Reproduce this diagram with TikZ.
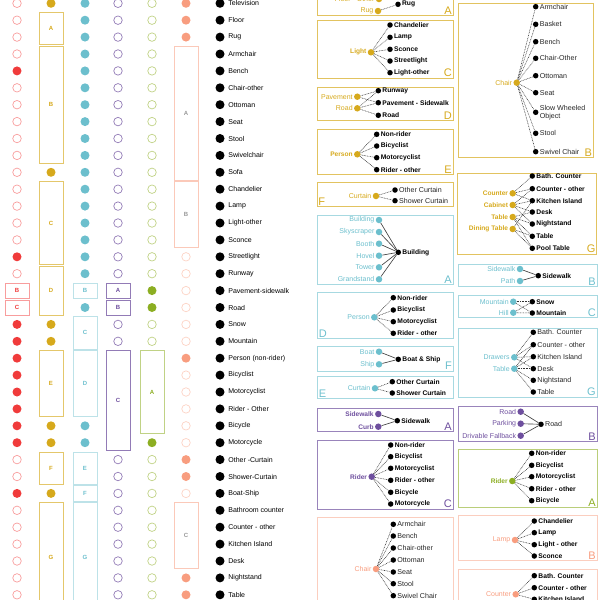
\documentclass[tikz,border=0pt]{standalone}
\usepackage{fontspec}
\setmainfont{Liberation Sans}
\usetikzlibrary{positioning}

\definecolor{rd}{HTML}{F03B3B}
\definecolor{gld}{HTML}{D6A91C}
\definecolor{tel}{HTML}{6CBFCD}
\definecolor{prp}{HTML}{6E4F9E}
\definecolor{grn}{HTML}{8CAE22}
\definecolor{slm}{HTML}{F89D7F}

% box spanning rows #3..#4 of the grid
\newcommand{\grp}[6]{%
  \node[#5,minimum height={(#4-#3)*16.9+15.2}] (#1) at (#2,{3.3+16.9*(#3+#4)/2}) {#6};}

\begin{document}
\begin{tikzpicture}[x=1pt,y=-1pt]
  \tikzset{opn/.style={circle,draw=#1,line width=0.7pt,minimum size=8.5pt,inner sep=0},
    ful/.style={circle,fill=#1,minimum size=9pt,inner sep=0},
    gb/.style 2 args={draw=#1,line width=0.8pt,minimum width=24pt,inner sep=0,text=#2,
      font=\fontsize{6}{6}\selectfont\bfseries},
    lbl/.style={inner sep=0,font=\fontsize{7}{8}\selectfont},
    tbx/.style={draw=#1,line width=0.9pt,inner sep=0},
    blet/.style={text=#1,inner sep=0,font=\fontsize{11}{11}\selectfont},
    src/.style={circle,fill=#1,minimum size=6.5pt,inner sep=0},
    dst/.style={circle,fill=black,minimum size=5.5pt,inner sep=0},
    tl/.style={inner sep=1pt,text=black!85,font=\fontsize{7.1}{7.8}\selectfont},
    tlb/.style={inner sep=1pt,text=black,font=\fontsize{6.7}{7.4}\selectfont\bfseries},
    sl/.style={inner sep=1pt,text=#1,font=\fontsize{7}{7.8}\selectfont},
    slb/.style={inner sep=1pt,text=#1,font=\fontsize{6.6}{7.4}\selectfont\bfseries},
    dl/.style={black!80,line width=0.55pt,dash pattern=on 0.8pt off 0.8pt},
    sdl/.style={black!75,line width=0.65pt}}
  \useasboundingbox (0,0) rectangle (600,600);
  \clip (0,0) rectangle (600,600);

  % ---- grid of classes ----
  \foreach \r in {0,1,2,3,5,6,7,8,9,10,11,12,13,14,16,27,28,30,31,32,33,34,35}
    \node[opn=rd!50] (a\r) at (17,{3.3+16.9*\r}) {};
  \foreach \r in {4,15,19,20,21,22,23,24,25,26,29}
    \node[ful=rd] (a\r) at (17,{3.3+16.9*\r}) {};
  \grp{a17}{17}{17}{17}{gb={rd!50}{rd}}{B}
  \grp{a18}{17}{18}{18}{gb={rd!50}{rd}}{C}

  \foreach \r in {0,10,19,20,25,26,29}
    \node[ful=gld] (b\r) at (51,{3.3+16.9*\r}) {};
  \grp{bA}{51}{1}{2}{gb={gld!65}{gld}}{A}
  \grp{bB}{51}{3}{9}{gb={gld!65}{gld}}{B}
  \grp{bC}{51}{11}{15}{gb={gld!65}{gld}}{C}
  \grp{bD}{51}{16}{18}{gb={gld!65}{gld}}{D}
  \grp{bE}{51}{21}{24}{gb={gld!65}{gld}}{E}
  \grp{bF}{51}{27}{28}{gb={gld!65}{gld}}{F}
  \grp{bG}{51}{30}{35.6}{gb={gld!65}{gld}}{G}

  \foreach \r in {0,...,16,18,25,26}
    \node[ful=tel] (c\r) at (85,{3.3+16.9*\r}) {};
  \grp{cB}{85}{17}{17}{gb={tel!45}{tel}}{B}
  \grp{cC}{85}{19}{20}{gb={tel!45}{tel}}{C}
  \grp{cD}{85}{21}{24}{gb={tel!45}{tel}}{D}
  \grp{cE}{85}{27}{28}{gb={tel!45}{tel}}{E}
  \grp{cF}{85}{29}{29}{gb={tel!45}{tel}}{F}
  \grp{cG}{85}{30}{35.6}{gb={tel!45}{tel}}{G}

  \foreach \r in {0,...,16,19,20,27,28,29,30,31,32,33,34,35}{
    \node[opn=prp!75] (d\r) at (118,{3.3+16.9*\r}) {};
    \node[opn=grn!55] (e\r) at (152,{3.3+16.9*\r}) {};}
  \grp{dA}{118}{17}{17}{gb={prp!75}{prp}}{A}
  \grp{dB}{118}{18}{18}{gb={prp!75}{prp}}{B}
  \grp{dC}{118}{21}{26}{gb={prp!75}{prp}}{C}
  \foreach \r in {17,18,26}
    \node[ful=grn] (e\r) at (152,{3.3+16.9*\r}) {};
  \grp{eA}{152}{21}{25}{gb={grn!55}{grn}}{A}

  \foreach \r in {0,1,2,21,27,28,34,35}
    \node[ful=slm] (f\r) at (186,{3.3+16.9*\r}) {};
  \foreach \r in {15,16,17,18,19,20,22,23,24,25,26,29}
    \node[opn=slm!45] (f\r) at (186,{3.3+16.9*\r}) {};
  \grp{fA}{186}{3}{10}{gb={slm!55}{black!40}}{A}
  \grp{fB}{186}{11}{14}{gb={slm!55}{black!40}}{B}
  \grp{fC}{186}{30}{33}{gb={slm!55}{black!40}}{C}

  \foreach \r/\t in {0/Television,1/Floor,2/Rug,3/Armchair,4/Bench,5/Chair-other,
      6/Ottoman,7/Seat,8/Stool,9/Swivelchair,10/Sofa,11/Chandelier,12/Lamp,
      13/Light-other,14/Sconce,15/Streetlight,16/Runway,17/Pavement-sidewalk,
      18/Road,19/Snow,20/Mountain,21/Person (non-rider),22/Bicyclist,
      23/Motorcyclist,24/Rider - Other,25/Bicycle,26/Motorcycle,27/Other -Curtain,
      28/Shower-Curtain,29/Boat-Ship,30/Bathroom counter,31/Counter - other,
      32/Kitchen Island,33/Desk,34/Nightstand,35/Table}{
    \node[ful=black] (k\r) at (220,{3.3+16.9*\r}) {};
    \node[lbl,right=3.5pt of k\r] (t\r) {\t};}

  % ---- merge trees, middle column ----
  \node[tbx=gld!70,minimum width=136,minimum height=45.8] (gA) at (385,-7.2) {};
  \node[blet=gld,anchor=south east] (gAl) at ([xshift=-1.5pt,yshift=1.5pt]gA.south east) {A};
  \node[src=gld,label={[sl=gld]left:Floor - Other}] (gA1) at (379,-1) {};
  \node[src=gld,label={[sl=gld]left:Rug}] (gA2) at (378,11) {};
  \node[dst,label={[tlb]right:Rug}] (gA3) at (398,4.3) {};
  \draw[dl] (gA2)--(gA3);

  \node[tbx=gld!70,minimum width=136,minimum height=57.6] (gC) at (385,49.5) {};
  \node[blet=gld,anchor=south east] (gCl) at ([xshift=-1.5pt,yshift=1.5pt]gC.south east) {C};
  \node[src=gld,label={[slb=gld]left:Light}] (gC0) at (371,52.3) {};
  \foreach \n/\y/\t in {1/25/Chandelier,2/37.3/Lamp,3/49.3/Sconce,4/61/Streetlight,5/72.7/Light-other}{
    \node[dst,label={[tlb]right:\t}] (gC\n) at (390,\y) {};
    \draw[dl] (gC0)--(gC\n);}

  \node[tbx=gld!70,minimum width=136,minimum height=33.4] (gD) at (385,104) {};
  \node[blet=gld,anchor=south east] (gDl) at ([xshift=-1.5pt,yshift=1.5pt]gD.south east) {D};
  \node[src=gld,label={[sl=gld]left:Pavement}] (gD1) at (357.3,96.7) {};
  \node[src=gld,label={[sl=gld]left:Road}] (gD2) at (357.3,108.3) {};
  \node[dst,label={[tlb]right:Runway}] (gD3) at (378.3,90.7) {};
  \node[dst,label={[tlb]right:Pavement - Sidewalk}] (gD4) at (378.3,102.7) {};
  \node[dst,label={[tlb]right:Road}] (gD5) at (378.3,115.3) {};
  \draw[dl] (gD1)--(gD3);
  \draw[dl] (gD1)--(gD4);
  \draw[dl] (gD2)--(gD3);
  \draw[dl] (gD2)--(gD4);
  \draw[dl] (gD2)--(gD5);

  \node[tbx=gld!70,minimum width=136,minimum height=45.3] (gE) at (385,151.7) {};
  \node[blet=gld,anchor=south east] (gEl) at ([xshift=-1.5pt,yshift=1.5pt]gE.south east) {E};
  \node[src=gld,label={[slb=gld]left:Person}] (gE0) at (357.3,154.3) {};
  \foreach \n/\y/\t in {1/134.3/Non-rider,2/146/Bicyclist,3/157.7/Motorcyclist,4/169.7/Rider - other}{
    \node[dst,label={[tlb]right:\t}] (gE\n) at (376.7,\y) {};
    \draw[dl] (gE0)--(gE\n);}

  \node[tbx=gld!70,minimum width=136,minimum height=24] (gF) at (385,194.7) {};
  \node[blet=gld,anchor=south west] (gFl) at ([xshift=1.5pt,yshift=1.5pt]gF.south west) {F};
  \node[src=gld,label={[sl=gld]left:Curtain}] (gF0) at (376,196) {};
  \foreach \n/\y/\t in {1/190/Other Curtain,2/200.7/Shower Curtain}{
    \node[dst,label={[tl]right:\t}] (gF\n) at (395,\y) {};
    \draw[dl] (gF0)--(gF\n);}

  \node[tbx=tel!60,minimum width=136,minimum height=68.6] (tA) at (385,250) {};
  \node[blet=tel,anchor=south east] (tAl) at ([xshift=-1.5pt,yshift=1.5pt]tA.south east) {A};
  \node[dst,label={[tlb]right:Building}] (tA0) at (398.3,252.3) {};
  \foreach \n/\y/\t in {1/220/Building,2/232/Skyscraper,3/243.7/Booth,4/255.7/Hovel,5/267.3/Tower,6/279.3/Grandstand}{
    \node[src=tel,label={[sl=tel]left:\t}] (tA\n) at (379,\y) {};
    \draw[sdl] (tA\n)--(tA0);}

  \node[tbx=tel!60,minimum width=136,minimum height=46] (tD) at (385,315.3) {};
  \node[blet=tel,anchor=south west] (tDl) at ([xshift=2pt,yshift=1.5pt]tD.south west) {D};
  \node[src=tel,label={[sl=tel]left:Person}] (tD0) at (374.3,317.3) {};
  \foreach \n/\y/\t in {1/297.7/Non-rider,2/310/Bicyclist,3/321.7/Motorcyclist,4/333.3/Rider - other}{
    \node[dst,label={[tlb]right:\t}] (tD\n) at (393.3,\y) {};
    \draw[dl] (tD0)--(tD\n);}

  \node[tbx=tel!60,minimum width=136,minimum height=24.3] (tF) at (385,358.8) {};
  \node[blet=tel,anchor=south east] (tFl) at ([xshift=-1.5pt,yshift=1.5pt]tF.south east) {F};
  \node[dst,label={[tlb]right:Boat \& Ship}] (tF0) at (398.3,359.3) {};
  \node[src=tel,label={[sl=tel]left:Boat}] (tF1) at (379,351.7) {};
  \node[src=tel,label={[sl=tel]left:Ship}] (tF2) at (379,364.3) {};
  \draw[sdl] (tF1)--(tF0);
  \draw[sdl] (tF2)--(tF0);

  \node[tbx=tel!60,minimum width=136,minimum height=21.8] (tE) at (385,387.6) {};
  \node[blet=tel,anchor=south west] (tEl) at ([xshift=2pt,yshift=1.5pt]tE.south west) {E};
  \node[src=tel,label={[sl=tel]left:Curtain}] (tE0) at (375,388.3) {};
  \foreach \n/\y/\t in {1/381.7/Other Curtain,2/393/Shower Curtain}{
    \node[dst,label={[tlb]right:\t}] (tE\n) at (392.3,\y) {};
    \draw[dl] (tE0)--(tE\n);}

  \node[tbx=prp!70,minimum width=136,minimum height=23.4] (pA) at (385,420) {};
  \node[blet=prp,anchor=south east] (pAl) at ([xshift=-1.5pt,yshift=1.5pt]pA.south east) {A};
  \node[dst,label={[tlb]right:Sidewalk}] (pA0) at (397.3,420.7) {};
  \node[src=prp,label={[slb=prp]left:Sidewalk}] (pA1) at (378.3,414) {};
  \node[src=prp,label={[slb=prp]left:Curb}] (pA2) at (378.3,426.7) {};
  \draw[sdl] (pA1)--(pA0);
  \draw[sdl] (pA2)--(pA0);

  \node[tbx=prp!70,minimum width=136,minimum height=68.3] (pC) at (385,474.8) {};
  \node[blet=prp,anchor=south east] (pCl) at ([xshift=-1.5pt,yshift=1.5pt]pC.south east) {C};
  \node[src=prp,label={[slb=prp]left:Rider}] (pC0) at (371.7,476.7) {};
  \foreach \n/\y/\t in {1/445/Non-rider,2/456.7/Bicyclist,3/468.3/Motorcyclist,4/480.3/Rider - other,5/492.3/Bicycle,6/504/Motorcycle}{
    \node[dst,label={[tlb]right:\t}] (pC\n) at (390.7,\y) {};
    \draw[dl] (pC0)--(pC\n);}

  \node[tbx=slm!50,minimum width=136,minimum height=122.7] (sA) at (385,578.7) {};
  \node[src=slm,label={[sl=slm]left:Chair}] (sA0) at (376,569) {};
  \foreach \n/\y/\t in {1/524.3/Armchair,2/536/Bench,3/548/Chair-other,4/560/Ottoman,5/572/Seat,6/583.7/Stool,7/595.7/Swivel Chair}{
    \node[dst,label={[tl]right:\t}] (sA\n) at (393.3,\y) {};
    \draw[dl] (sA0)--(sA\n);}

  % ---- merge trees, right column ----
  \node[tbx=gld!70,minimum width=135,minimum height=154.4] (gB) at (525.8,80.5) {};
  \node[blet=gld,anchor=south east] (gBl) at ([xshift=-1.5pt,yshift=1.5pt]gB.south east) {B};
  \node[src=gld,label={[sl=gld]left:Chair}] (gB0) at (516.7,82.7) {};
  \foreach \n/\y/\t in {1/6.7/Armchair,2/24.3/Basket,3/41.7/Bench,4/58.3/Chair-Other,5/75.7/Ottoman,6/92.7/Seat,8/133.3/Stool,9/151.7/Swivel Chair}{
    \node[dst,label={[tl]right:\t}] (gB\n) at (535.7,\y) {};
    \draw[dl] (gB0)--(gB\n);}
  \node[dst,label={[tl,align=left]right:Slow Wheeled\\Object}] (gB7) at (535.7,112.3) {};
  \draw[dl] (gB0)--(gB7);

  \node[tbx=gld!70,minimum width=139,minimum height=81] (gG) at (527.2,213.8) {};
  \node[blet=gld,anchor=south east] (gGl) at ([xshift=-1.5pt,yshift=1.5pt]gG.south east) {G};
  \foreach \n/\y/\t in {1/193.3/Counter,2/205/Cabinet,3/217/Table,4/229/Dining Table}
    \node[src=gld,label={[slb=gld]left:\t}] (gG\n) at (512.7,\y) {};
  \foreach \n/\y/\t in {5/176/Bath. Counter,6/188.7/Counter - other,7/200.7/Kitchen Island,8/212/Desk,9/224/Nightstand,10/236.3/Table,11/248.3/Pool Table}
    \node[dst,label={[tlb]right:\t}] (gG\n) at (532.3,\y) {};
  \foreach \i/\j in {1/5,1/6,1/7,2/6,2/7,2/8,2/9,3/8,3/9,3/10,3/11,4/7,4/10,4/11}
    \draw[dl] (gG\i)--(gG\j);

  \node[tbx=tel!60,minimum width=139,minimum height=22.4] (tB) at (527.5,275.5) {};
  \node[blet=tel,anchor=south east] (tBl) at ([xshift=-1.5pt,yshift=1.5pt]tB.south east) {B};
  \node[dst,label={[tlb]right:Sidewalk}] (tB0) at (538.3,275.7) {};
  \node[src=tel,label={[sl=tel]left:Sidewalk}] (tB1) at (520,269) {};
  \node[src=tel,label={[sl=tel]left:Path}] (tB2) at (520,281) {};
  \draw[sdl] (tB1)--(tB0);
  \draw[sdl] (tB2)--(tB0);

  \node[tbx=tel!60,minimum width=139,minimum height=22] (tC) at (527.5,306.7) {};
  \node[blet=tel,anchor=south east] (tCl) at ([xshift=-1.5pt,yshift=1.5pt]tC.south east) {C};
  \node[src=tel,label={[sl=tel]left:Mountain}] (tC1) at (513.3,301.7) {};
  \node[src=tel,label={[sl=tel]left:Hill}] (tC2) at (513.3,312.7) {};
  \node[dst,label={[tlb]right:Snow}] (tC3) at (532.3,301.7) {};
  \node[dst,label={[tlb]right:Mountain}] (tC4) at (532.3,313) {};
  \draw[dl] (tC1)--(tC3);
  \draw[dl] (tC1)--(tC4);
  \draw[dl] (tC2)--(tC3);
  \draw[dl] (tC2)--(tC4);

  \node[tbx=tel!60,minimum width=139,minimum height=68.7] (tG) at (527.5,362.7) {};
  \node[blet=tel,anchor=south east] (tGl) at ([xshift=-1.5pt,yshift=1.5pt]tG.south east) {G};
  \node[src=tel,label={[sl=tel]left:Drawers}] (tG1) at (514.3,357.3) {};
  \node[src=tel,label={[sl=tel]left:Table}] (tG2) at (514.3,368.7) {};
  \foreach \n/\y/\t in {3/332.3/Bath. Counter,4/344.7/Counter - other,5/356.7/Kitchen Island,6/368.7/Desk,7/380.3/Nightstand,8/392/Table}
    \node[dst,label={[tl]right:\t}] (tG\n) at (533.3,\y) {};
  \foreach \i/\j in {1/3,1/4,1/5,1/6,2/4,2/5,2/6,2/7,2/8}
    \draw[dl] (tG\i)--(tG\j);

  \node[tbx=prp!70,minimum width=139,minimum height=35] (pB) at (527.5,424.2) {};
  \node[blet=prp,anchor=south east] (pBl) at ([xshift=-1.5pt,yshift=1.5pt]pB.south east) {B};
  \node[dst,label={[tl]right:Road}] (pB0) at (541,424.3) {};
  \foreach \n/\y/\t in {1/411.7/Road,2/423.7/Parking,3/435.7/Drivable Fallback}{
    \node[src=prp,label={[sl=prp]left:\t}] (pB\n) at (520.7,\y) {};
    \draw[sdl] (pB\n)--(pB0);}

  \node[tbx=grn!60,minimum width=139,minimum height=58] (eA) at (527.5,478.3) {};
  \node[blet=grn,anchor=south east] (eAl) at ([xshift=-1.5pt,yshift=1.5pt]eA.south east) {A};
  \node[src=grn,label={[slb=grn]left:Rider}] (eA0) at (512.3,481) {};
  \foreach \n/\y/\t in {1/453.3/Non-rider,2/465.3/Bicyclist,3/476.7/Motorcyclist,4/488.7/Rider - other,5/500.7/Bicycle}{
    \node[dst,label={[tlb]right:\t}] (eA\n) at (531.7,\y) {};
    \draw[dl] (eA0)--(eA\n);}

  \node[tbx=slm!50,minimum width=139,minimum height=45] (sB) at (527.5,538.2) {};
  \node[blet=slm,anchor=south east] (sBl) at ([xshift=-1.5pt,yshift=1.5pt]sB.south east) {B};
  \node[src=slm,label={[sl=slm]left:Lamp}] (sB0) at (515,540) {};
  \foreach \n/\y/\t in {1/521/Chandelier,2/532.7/Lamp,3/544.7/Light - other,4/556/Sconce}{
    \node[dst,label={[tlb]right:\t}] (sB\n) at (534.3,\y) {};
    \draw[dl] (sB0)--(sB\n);}

  \node[tbx=slm!50,minimum width=139,minimum height=71] (sC) at (527.5,604.5) {};
  \node[src=slm,label={[sl=slm]left:Counter}] (sC0) at (515.7,594.3) {};
  \foreach \n/\y/\t in {1/575.7/Bath. Counter,2/587.7/Counter - other,3/599.3/Kitchen Island}{
    \node[dst,label={[tlb]right:\t}] (sC\n) at (534.3,\y) {};
    \draw[dl] (sC0)--(sC\n);}
\end{tikzpicture}
\end{document}
